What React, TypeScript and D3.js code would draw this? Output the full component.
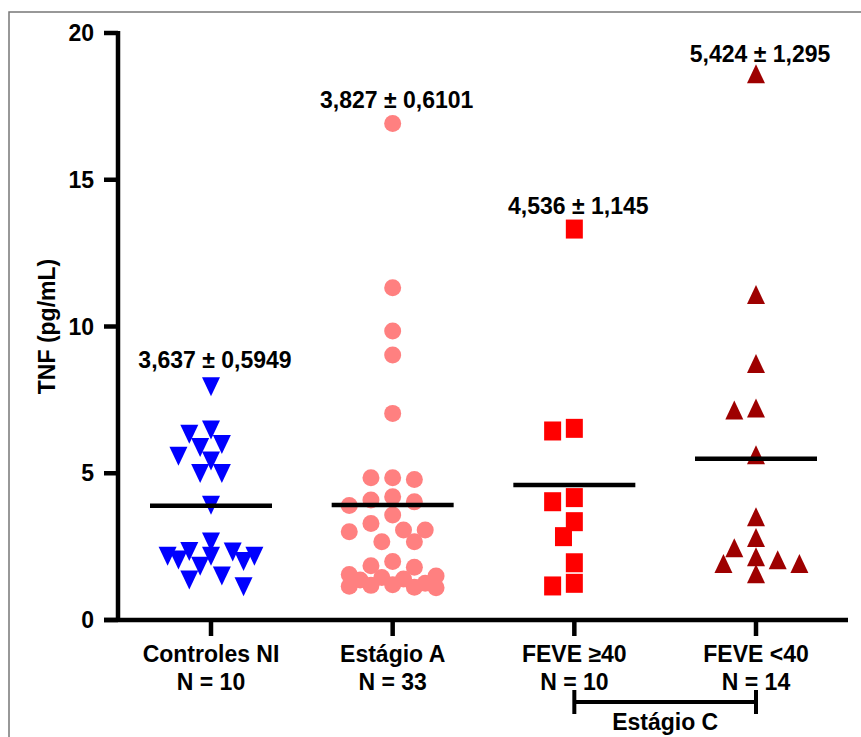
import React, { useRef, useEffect } from 'react';
import * as d3 from 'd3';

// groups on the x axis
const categories = ['Controles NI', 'Estágio A', 'FEVE ≥40', 'FEVE <40'];
const groupN = ['N = 10', 'N = 33', 'N = 10', 'N = 14'];
const annotations = ['3,637 ± 0,5949', '3,827 ± 0,6101', '4,536 ± 1,145', '5,424 ± 1,295'];

// TNF values (pg/mL)
const controles = [8.07, 6.59, 6.45, 6.1, 6.0, 5.7, 5.54, 5.11, 5.11, 4.03,
  2.78, 2.45, 2.44, 2.29, 2.29, 2.29, 2.16, 2.11, 1.95, 1.62, 1.48, 1.25];
const estagioA = [16.92, 11.32, 9.85, 9.03, 7.04, 4.85, 4.85, 4.79, 4.2, 4.09, 4.03, 3.9,
  3.58, 3.29, 3.07, 3.07, 3.01, 2.67, 2.67, 1.99, 1.85, 1.8, 1.55, 1.5, 1.45, 1.4,
  1.36, 1.25, 1.2, 1.18, 1.15, 1.12, 1.1];
const feveMaior40 = [13.32, 6.53, 6.44, 4.17, 4.03, 3.35, 2.84, 1.95, 1.25, 1.16];
const feveMenor40 = [18.49, 10.97, 8.62, 7.1, 7.04, 5.51, 3.4, 2.69, 2.34, 2.04, 1.93, 1.81, 1.81, 1.46];
const series = [controles, estagioA, feveMaior40, feveMenor40];

// horizontal lines drawn in the figure
const lineValues = [3.89, 3.92, 4.6, 5.49];

const yTicks = [0, 5, 10, 15, 20];
const bracketLabel = 'Estágio C';

const markerColors = ['#0000ff', '#ff8080', '#ff0000', '#9e0000'];

// scatter dot plot layout: keep y, push x sideways in half steps until the marker fits
function dodge(values: number[], y: (v: number) => number, step: number, minDist: number, maxCol: number) {
  const order = values.map((v, i) => ({ v, i })).sort((a, b) => b.v - a.v);
  const cands: number[] = [0];
  for (let k = 0.5; k <= maxCol; k += 0.5) cands.push(-k, k);
  const placed: { px: number; py: number }[] = [];
  const out: { v: number; dx: number }[] = new Array(values.length);
  for (const p of order) {
    const py = y(p.v);
    let best = 0;
    let bestD = -1;
    for (const c of cands) {
      const px = c * step;
      const d = placed.length ? d3.min(placed, q => Math.hypot(q.px - px, q.py - py))! : Infinity;
      if (d >= minDist) { best = c; bestD = Infinity; break; }
      if (d > bestD) { bestD = d; best = c; }
    }
    placed.push({ px: best * step, py });
    out[p.i] = { v: p.v, dx: best * step };
  }
  return out;
}

export default function App() {
  const ref = useRef<SVGSVGElement>(null);

  useEffect(() => {
    const svg = d3.select(ref.current);
    svg.selectAll('*').remove();

    const width = 861;
    const height = 737;
    const font = '"Liberation Sans", Arial, sans-serif';
    const fs = 23;

    const axisX = 118;
    const axisY = 620;
    const tickLen = 14;
    const step = 21.7;

    const y = d3.scaleLinear().domain([0, 20]).range([axisY, 33]);
    const x = d3.scalePoint<string>().domain(categories).range([211, 756]);

    // frame
    svg.append('path')
      .attr('d', `M9,${height} V12 H${width}`)
      .attr('fill', 'none')
      .attr('stroke', '#777')
      .attr('stroke-width', 1.5);

    const g = svg.append('g').style('font-family', font).style('font-weight', 'bold').style('font-size', `${fs}px`);

    // y axis
    g.append('line')
      .attr('x1', axisX).attr('x2', axisX)
      .attr('y1', y(20) - 2).attr('y2', axisY)
      .attr('stroke', '#000').attr('stroke-width', 4.5);
    yTicks.forEach(t => {
      g.append('line')
        .attr('x1', axisX - tickLen).attr('x2', axisX)
        .attr('y1', y(t)).attr('y2', y(t))
        .attr('stroke', '#000').attr('stroke-width', 4.5);
      g.append('text')
        .attr('x', 94).attr('y', y(t))
        .attr('dy', '0.35em')
        .attr('text-anchor', 'end')
        .text(t);
    });
    g.append('text')
      .attr('transform', `translate(55,${y(10)}) rotate(-90)`)
      .attr('text-anchor', 'middle')
      .text('TNF (pg/mL)');

    // x axis
    g.append('line')
      .attr('x1', axisX - tickLen).attr('x2', 848)
      .attr('y1', axisY).attr('y2', axisY)
      .attr('stroke', '#000').attr('stroke-width', 4.5);
    categories.forEach((c, i) => {
      const cx = x(c)!;
      g.append('line')
        .attr('x1', cx).attr('x2', cx)
        .attr('y1', axisY).attr('y2', axisY + 16)
        .attr('stroke', '#000').attr('stroke-width', 4.5);
      g.append('text').attr('x', cx).attr('y', 662).attr('text-anchor', 'middle').text(c);
      g.append('text').attr('x', cx).attr('y', 690).attr('text-anchor', 'middle').text(groupN[i]);
    });

    // bracket for Estágio C
    const bx1 = x(categories[2])!;
    const bx2 = x(categories[3])!;
    g.append('path')
      .attr('d', `M${bx1},690 V714 M${bx1},702 H${bx2} M${bx2},690 V714`)
      .attr('fill', 'none').attr('stroke', '#000').attr('stroke-width', 4);
    g.append('text').attr('x', (bx1 + bx2) / 2).attr('y', 730).attr('text-anchor', 'middle').text(bracketLabel);

    // markers
    const triDown = 'M0,13 L9,-6 L-9,-6 Z';
    const triUp = 'M0,-13 L9,6 L-9,6 Z';
    series.forEach((vals, gi) => {
      const cx = x(categories[gi])!;
      const pts = dodge(vals, y, step, 16, 2);
      const grp = g.append('g').attr('fill', markerColors[gi]);
      pts.forEach(p => {
        const px = cx + p.dx;
        const py = y(p.v);
        if (gi === 0) {
          grp.append('path').attr('d', triDown).attr('transform', `translate(${px},${py})`);
        } else if (gi === 1) {
          grp.append('circle').attr('cx', px).attr('cy', py).attr('r', 8.5);
        } else if (gi === 2) {
          grp.append('rect').attr('x', px - 8.5).attr('y', py - 9.5).attr('width', 17).attr('height', 19);
        } else {
          grp.append('path').attr('d', triUp).attr('transform', `translate(${px},${py})`);
        }
      });

      // horizontal line
      g.append('line')
        .attr('x1', cx - 61).attr('x2', cx + 61)
        .attr('y1', y(lineValues[gi])).attr('y2', y(lineValues[gi]))
        .attr('stroke', '#000').attr('stroke-width', 4.5);

      // mean ± sem text above the highest point
      g.append('text')
        .attr('x', cx + 4)
        .attr('y', y(d3.max(vals)!) - 15)
        .attr('text-anchor', 'middle')
        .text(annotations[gi]);
    });
  }, []);

  return (
    <svg ref={ref} width={861} height={737}
      style={{ position: 'absolute', left: 0, top: 0, background: '#fff' }} />
  );
}
